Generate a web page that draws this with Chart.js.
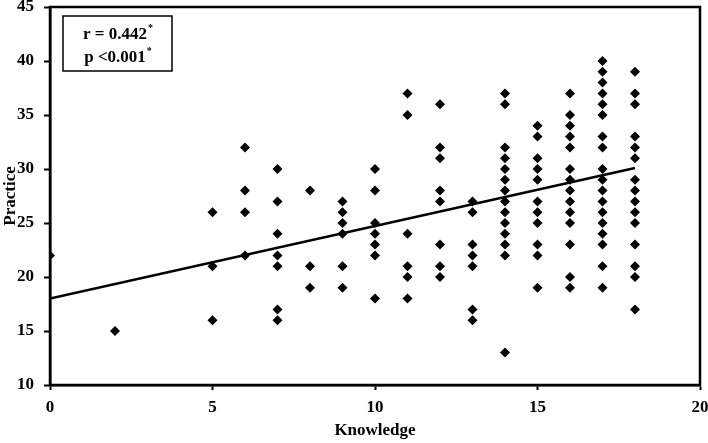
<!DOCTYPE html>
<html>
<head>
<meta charset="utf-8">
<script src="https://cdn.jsdelivr.net/npm/chart.js@4.4.1/dist/chart.umd.min.js"></script>
<style>
  html, body { margin: 0; padding: 0; background: #fff; }
  #wrap { width: 708px; height: 443px; }
</style>
</head>
<body>
<div id="wrap"><canvas id="scatterChart" width="708" height="443"></canvas></div>
<script>
// Knowledge scores that have at least one respondent
const knowledgeScores = [0, 2, 5, 6, 7, 8, 9, 10, 11, 12, 13, 14, 15, 16, 17, 18];

// Practice scores seen at each knowledge score (same order as above)
const practiceScores = [
  [22],
  [15],
  [26, 21, 16],
  [32, 28, 26, 22],
  [30, 27, 24, 22, 21, 17, 16],
  [28, 21, 19],
  [27, 26, 25, 24, 21, 19],
  [30, 28, 25, 24, 23, 22, 18],
  [37, 35, 24, 21, 20, 18],
  [36, 32, 31, 28, 27, 23, 21, 20],
  [27, 26, 23, 22, 21, 17, 16],
  [37, 36, 32, 31, 30, 29, 28, 27, 26, 25, 24, 23, 22, 13],
  [34, 33, 31, 30, 29, 27, 26, 25, 23, 22, 19],
  [37, 35, 34, 33, 32, 30, 29, 28, 27, 26, 25, 23, 20, 19],
  [40, 39, 38, 37, 36, 35, 33, 32, 30, 29, 28, 27, 26, 25, 24, 23, 21, 19],
  [39, 37, 36, 33, 32, 31, 29, 28, 27, 26, 25, 23, 21, 20, 17]
];

// Fitted line end points
const trendX = [0, 18];
const trendY = [18.0, 30.1];

// Tick labels
const xTicks = [0, 5, 10, 15, 20];
const yTicks = [10, 15, 20, 25, 30, 35, 40, 45];

const statLines = [['r = 0.442', '*'], ['p <0.001', '*']];

const FONT = '"Liberation Serif", "Times New Roman", serif';

let points = [];
knowledgeScores.forEach((k, i) => {
    practiceScores[i].forEach(p => points.push({ x: k, y: p }));
});
let trendLine = trendX.map((x, i) => ({ x: x, y: trendY[i] }));

//Draws the box around the plot and the correlation note
const framePlugin = {
    id: 'frame',
    afterDraw(chart) {
        const ctx = chart.ctx;
        const a = chart.chartArea;
        ctx.save();
        ctx.strokeStyle = '#000';
        ctx.lineWidth = 2.5;
        ctx.strokeRect(a.left, a.top, a.right - a.left, a.bottom - a.top);

        //correlation box
        const bx = a.left + 13, by = a.top + 9, bw = 109, bh = 55;
        ctx.lineWidth = 1.5;
        ctx.strokeRect(bx, by, bw, bh);
        ctx.fillStyle = '#000';
        ctx.textBaseline = 'alphabetic';
        statLines.forEach((line, i) => {
            ctx.font = 'bold 17px ' + FONT;
            const w1 = ctx.measureText(line[0]).width;
            ctx.font = 'bold 10px ' + FONT;
            const w2 = ctx.measureText(line[1]).width;
            const startX = bx + (bw - w1 - w2) / 2;
            const baseY = by + 23 + i * 23;
            ctx.font = 'bold 17px ' + FONT;
            ctx.fillText(line[0], startX, baseY);
            ctx.font = 'bold 10px ' + FONT;
            ctx.fillText(line[1], startX + w1 + 1, baseY - 8);
        });
        ctx.restore();
    }
};

new Chart(document.getElementById('scatterChart'), {
    type: 'scatter',
    data: {
        datasets: [{
            label: 'Respondents',
            data: points,
            pointStyle: 'rectRot',
            pointRadius: 5,
            pointHoverRadius: 5,
            backgroundColor: '#000',
            borderColor: '#000',
            borderWidth: 0
        },
        {
            type: 'line',
            label: 'Fit',
            data: trendLine,
            borderColor: '#000',
            borderWidth: 2.5,
            pointRadius: 0,
            fill: false
        }]
    },
    options: {
        responsive: false,
        animation: false,
        layout: { padding: { top: 7, right: 8, left: 0, bottom: 0 } },
        plugins: {
            legend: { display: false },
            tooltip: { enabled: false }
        },
        scales: {
            x: {
                type: 'linear',
                min: 0,
                max: 20,
                afterBuildTicks: (scale) => { scale.ticks = xTicks.map(v => ({ value: v })); },
                afterFit: (scale) => {
                    scale.height = 58;
                    scale.paddingLeft = 0;
                    scale.paddingRight = 0;
                },
                grid: {
                    drawOnChartArea: false,
                    tickLength: 5,
                    tickWidth: 2,
                    color: '#000'
                },
                border: { display: true, color: '#000', width: 2.5 },
                ticks: {
                    color: '#000',
                    padding: 7,
                    maxRotation: 0,
                    font: { family: FONT, size: 17, weight: 'bold' }
                },
                title: {
                    display: true,
                    text: 'Knowledge',
                    color: '#000',
                    padding: { top: 0, bottom: 2 },
                    font: { family: FONT, size: 17, weight: 'bold' }
                }
            },
            y: {
                type: 'linear',
                min: 10,
                max: 45,
                afterBuildTicks: (scale) => { scale.ticks = yTicks.map(v => ({ value: v })); },
                afterFit: (scale) => {
                    scale.width = 50;
                    scale.paddingTop = 0;
                    scale.paddingBottom = 0;
                },
                grid: {
                    drawOnChartArea: false,
                    tickLength: 6,
                    tickWidth: 2,
                    color: '#000'
                },
                border: { display: true, color: '#000', width: 2.5 },
                ticks: {
                    color: '#000',
                    padding: 10,
                    font: { family: FONT, size: 17, weight: 'bold' }
                },
                title: {
                    display: true,
                    text: 'Practice',
                    color: '#000',
                    padding: { top: 0, bottom: 0 },
                    font: { family: FONT, size: 17, weight: 'bold' }
                }
            }
        }
    },
    plugins: [framePlugin]
});
</script>
</body>
</html>
